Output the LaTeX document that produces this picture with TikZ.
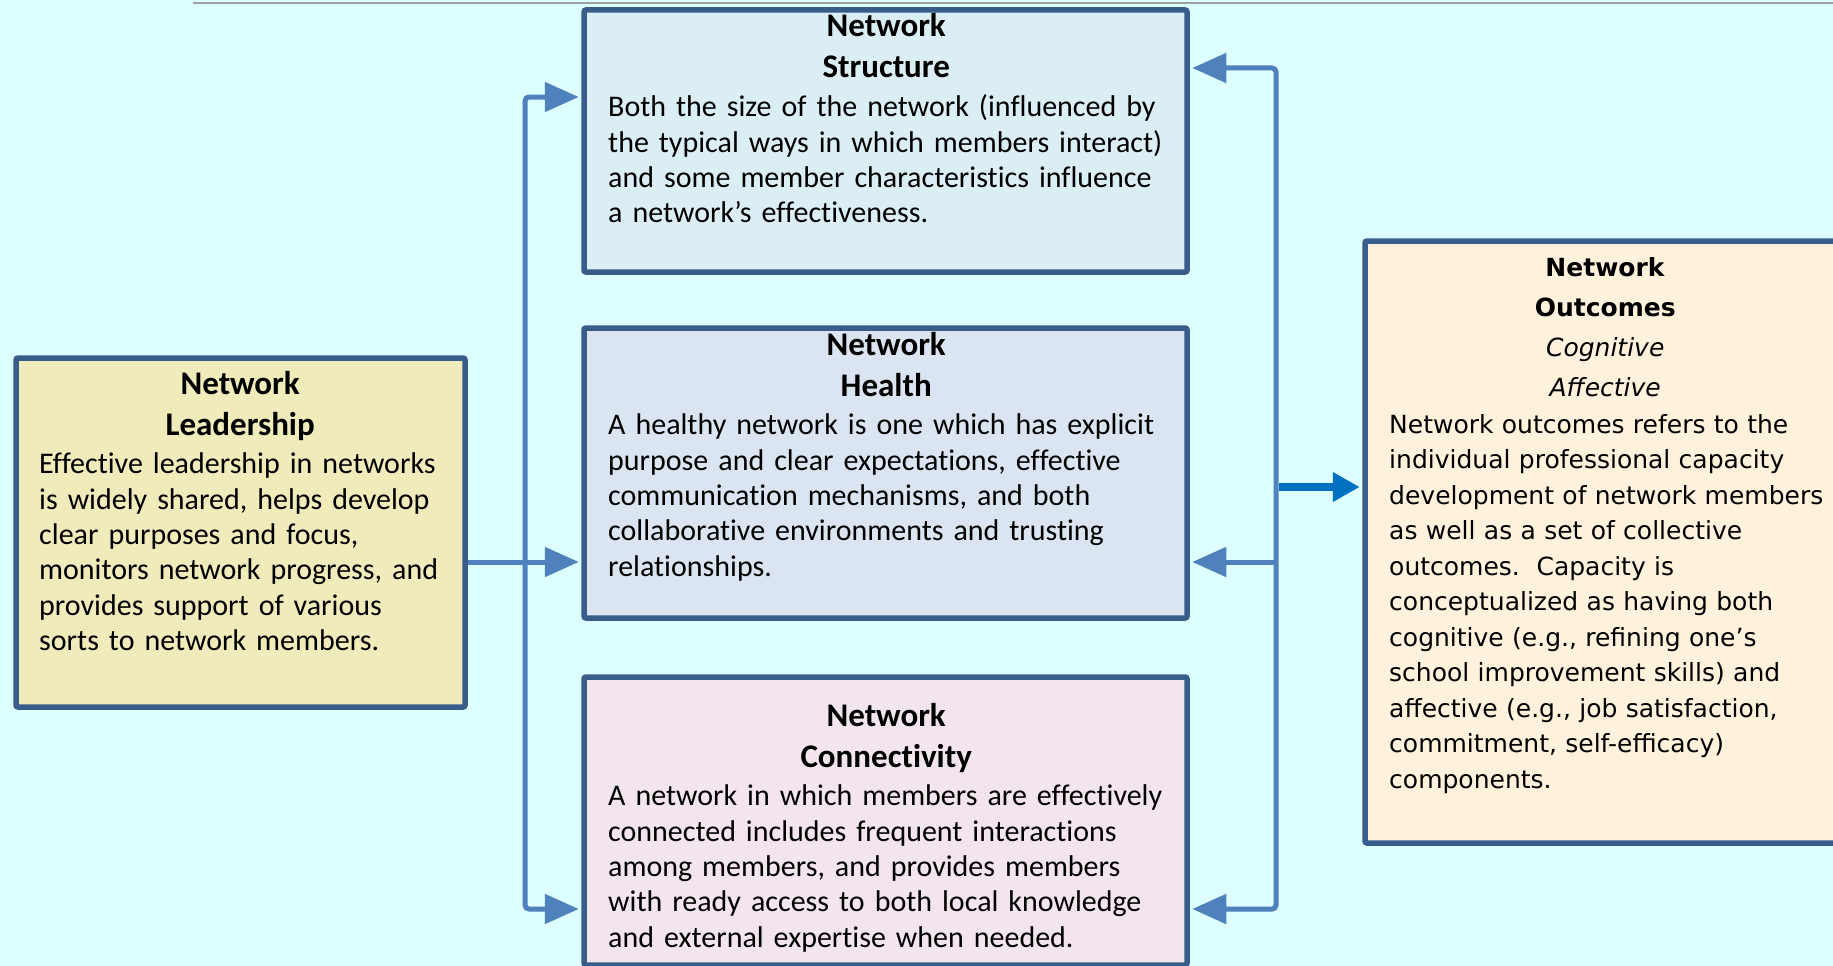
\documentclass[tikz,border=0pt]{standalone}
\usepackage{fontspec}
\setmainfont{Carlito}[Ligatures=NoCommon]
\newfontfamily\outfont{DejaVu Sans}
\usetikzlibrary{arrows.meta, positioning, calc}
\hyphenpenalty=10000
\exhyphenpenalty=10000

\definecolor{paper}{RGB}{221,255,255}
\definecolor{edgec}{RGB}{56,93,138}
\definecolor{linkc}{RGB}{79,129,189}
\definecolor{strongc}{RGB}{0,112,192}
\definecolor{fillS}{RGB}{219,238,244}
\definecolor{fillH}{RGB}{219,229,241}
\definecolor{fillC}{RGB}{242,229,238}
\definecolor{fillL}{RGB}{240,235,187}
\definecolor{fillO}{RGB}{255,242,220}

\newcommand{\titlelines}[2]{{\centering\fontsize{33}{41}\selectfont\bfseries #1\\#2\par}\vspace{3.5pt}}
\newcommand{\outtitle}[4]{{\centering\fontsize{25}{40}\selectfont\textbf{#1}\\\textbf{#2}\\\textit{#3}\\\textit{#4}\par}\vspace{1.5pt}}

\tikzset{
  box/.style={draw=edgec, line width=5.5pt, rounded corners=2pt, inner sep=0pt},
  txt/.style={anchor=base west, inner sep=0pt, align=left, font={\fontsize{30}{35.3}\selectfont}},
  outtxt/.style={anchor=base west, inner sep=0pt, align=left, font={\outfont\fontsize{25}{35.5}\selectfont}},
  flow/.style={draw=linkc, line width=5pt, rounded corners=4pt, shorten >=2.5pt, shorten <=2.5pt},
  push/.style={draw=strongc, line width=8pt, shorten <=3pt, shorten >=2.5pt, -{Triangle[length=27pt, width=28pt]}}
}

\begin{document}
\begin{tikzpicture}[x=1pt, y=-1pt, >={Triangle[length=34pt, width=29pt]}]
  \fill[paper] (0,0) rectangle (1833,966);
  \useasboundingbox (0,0) rectangle (1833,966);
  \draw[gray!75, line width=1.5pt] (193,3) -- (1833,3);

  \coordinate (lbus) at (525,0);
  \coordinate (rbus) at (1276,0);
  \coordinate (sl) at (0,97);
  \coordinate (sr) at (0,68);
  \coordinate (hy) at (0,562);
  \coordinate (cy) at (0,909);
  \coordinate (oy) at (0,487);

  \node[box, fill=fillS, minimum width=603pt, minimum height=262pt] (struct) at (885.5,141) {};
  \node[box, fill=fillH, minimum width=603pt, minimum height=290pt] (health) at (885.5,473) {};
  \node[box, fill=fillC, minimum width=603pt, minimum height=288pt] (conn) at (885.5,821) {};
  \node[box, fill=fillL, minimum width=449pt, minimum height=349pt] (lead) at (240.5,532.5) {};
  \node[box, fill=fillO, minimum width=485pt, minimum height=602pt] (outc) at (1607.5,542) {};

  \node[txt, text width=556pt] (structtxt) at (608,37) {\titlelines{Network}{Structure}%
    Both the size of the network (influenced by\\
    the typical ways in which members interact)\\
    and some member characteristics influence\\
    a network’s effectiveness.};
  \node[txt, text width=556pt] (healthtxt) at (608,355) {\titlelines{Network}{Health}%
    A healthy network is one which has explicit\\
    purpose and clear expectations, effective\\
    communication mechanisms, and both\\
    collaborative environments and trusting\\
    relationships.};
  \node[txt, text width=556pt] (conntxt) at (608,726) {\titlelines{Network}{Connectivity}%
    A network in which members are effectively\\
    connected includes frequent interactions\\
    among members, and provides members\\
    with ready access to both local knowledge\\
    and external expertise when needed.};
  \node[txt, text width=402pt] (leadtxt) at (39,394) {\titlelines{Network}{Leadership}%
    Effective leadership in networks\\
    is widely shared, helps develop\\
    clear purposes and focus,\\
    monitors network progress, and\\
    provides support of various\\
    sorts to network members.};
  \node[outtxt, text width=432pt] (outctxt) at (1389,276) {\outtitle{Network}{Outcomes}{Cognitive}{Affective}%
    Network outcomes refers to the\\
    individual professional capacity\\
    \mbox{development of network members}\\
    as well as a set of collective\\
    outcomes.\ \ Capacity is\\
    conceptualized as having both\\
    cognitive (e.g., refining one’s\\
    school improvement skills) and\\
    affective (e.g., job satisfaction,\\
    commitment, self-efficacy)\\
    components.};

  \draw[flow, shorten <=0pt, ->] (lead.east |- hy) -- (health.west |- hy);
  \draw[flow, <->] (struct.west |- sl) -| (lbus |- cy) -- (conn.west |- cy);
  \draw[flow, <->] (struct.east |- sr) -| (rbus |- cy) -- (conn.east |- cy);
  \draw[flow, ->] (rbus |- hy) -- (health.east |- hy);
  \draw[push] (rbus |- oy) -- (outc.west |- oy);
\end{tikzpicture}
\end{document}
